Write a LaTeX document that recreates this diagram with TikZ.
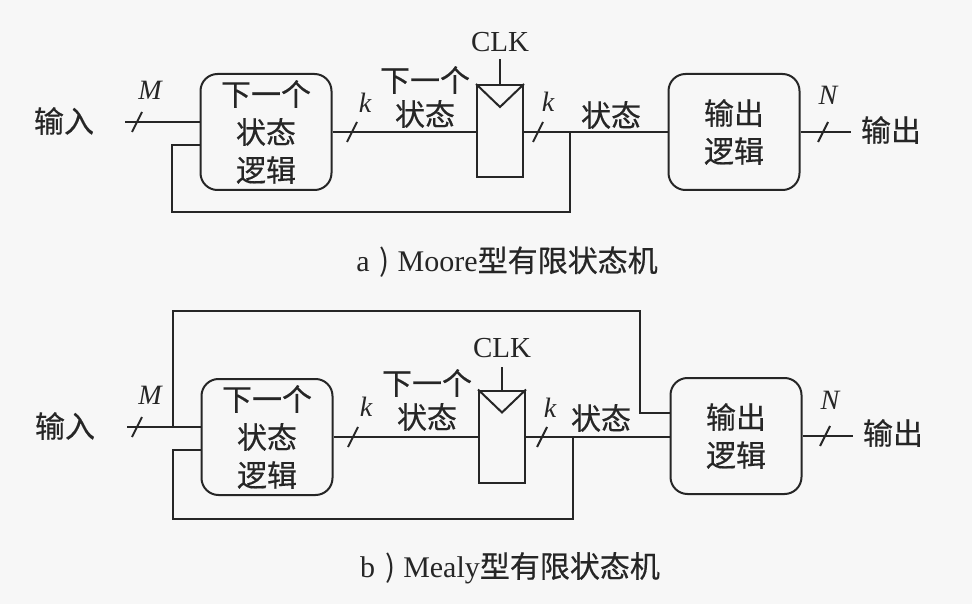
\documentclass[tikz,border=0pt]{standalone}
\usepackage{fontspec}
\setmainfont{Liberation Serif}
\newfontfamily\cjk[FakeBold=0.4]{Noto Sans CJK SC}
\newfontfamily\cjkthin{Noto Sans CJK SC}
\begin{document}
\begin{tikzpicture}[x=1pt,y=-1pt,
  wire/.style={draw=black!85,line width=2pt},
  lbl/.style={inner sep=0pt,text=black!85,font=\cjk\fontsize{30}{34}\selectfont},
  lat/.style={inner sep=0pt,text=black!85,font=\fontsize{29}{34}\selectfont},
  var/.style={inner sep=0pt,text=black!85,font=\fontsize{28}{32}\selectfont\itshape},
  logic/.style={draw=black!85,line width=2pt,rounded corners=17pt,minimum width=131pt,minimum height=116pt,
    align=center,inner sep=0pt,text=black!85,font=\cjk\fontsize{30}{38}\selectfont},
  regbox/.style={draw=black!85,line width=2pt,minimum width=46pt,minimum height=92pt,inner sep=0pt},
  bus/.pic={\draw[wire] (-5,10) -- (5,-10);}
]
\useasboundingbox[fill=black!3] (0,0) rectangle (972,604);

%% ---------- a) Moore ----------
\node[lbl] (inA) at (64,121) {输入};
\coordinate (inA0) at (125,122);
\node[logic] (nsA) at (266,132) {下一个\\状态\\逻辑};
\node[regbox] (regA) at (500,131) {};
\node[logic] (outA) at (734,132) {输出\\逻辑};
\coordinate (outA1) at (851,132);
\node[lbl] (outAt) at (891,130) {输出};
\node[lat] (clkA) at (500,42) {CLK};
\node[var] (mA) at (150,90) {M};
\node[var] (k1A) at (365,103) {k};
\node[var] (k2A) at (548,102) {k};
\node[var] (nA) at (828,95) {N};
\node[lbl,align=center] (nxA) at (425,97) {下一个\\状态};
\node[lbl] (stA) at (611,115) {状态};
\coordinate (jA) at (570,132);
\coordinate (fbA1) at (172,212);
\coordinate (fbA2) at (570,212);

\draw[wire] (inA0) -- (inA0 -| nsA.west);
\draw[wire] (nsA.east) -- (nsA.east -| regA.west);
\draw[wire] (regA.east |- nsA.east) -- (outA.west);
\draw[wire] (outA.east) -- (outA1);
\draw[wire] ([yshift=-13pt]nsA.west) -| (fbA1) -- (fbA2) -- (jA);
\draw[wire] (regA.north) -- ++(0,-25);
\draw[wire,line join=miter] (regA.north west) -- ([yshift=-23pt]regA.north) -- (regA.north east);
\pic at (137,122) {bus};
\pic at (352,132) {bus};
\pic at (538,132) {bus};
\pic at (823,132) {bus};

\node[lat,font=\fontsize{30}{34}\selectfont] (capA) at (507,262) {a\hspace{10pt}{\cjkthin )}\hspace{8pt}Moore{\cjk 型有限状态机}};

%% ---------- b) Mealy ----------
\node[lbl] (inB) at (65,426) {输入};
\coordinate (inB0) at (127,427);
\node[logic] (nsB) at (267,437) {下一个\\状态\\逻辑};
\node[regbox] (regB) at (502,436.5) {};
\node[logic] (outB) at (736,436) {输出\\逻辑};
\coordinate (outB1) at (853,436);
\node[lbl] (outBt) at (893,433) {输出};
\node[lat] (clkB) at (502,348) {CLK};
\node[var] (mB) at (150,395) {M};
\node[var] (k1B) at (366,407) {k};
\node[var] (k2B) at (550,408) {k};
\node[var] (nB) at (830,400) {N};
\node[lbl,align=center] (nxB) at (427,400) {下一个\\状态};
\node[lbl] (stB) at (601,418) {状态};
\coordinate (jB) at (573,437);
\coordinate (jB0) at (173,427);
\coordinate (fbB1) at (173,519);
\coordinate (fbB3) at (573,519);
\coordinate (fbB2) at (640,311);

\draw[wire] (inB0) -- (inB0 -| nsB.west);
\draw[wire] (nsB.east) -- (nsB.east -| regB.west);
\draw[wire] (regB.east |- nsB.east) -- (outB.west |- nsB.east);
\draw[wire] (outB.east) -- (outB1);
\draw[wire] ([yshift=-13pt]nsB.west) -| (fbB1) -- (fbB3) -- (jB);
\draw[wire] (jB0) |- (fbB2) |- ([yshift=23pt]outB.west);
\draw[wire] (regB.north) -- ++(0,-23);
\draw[wire,line join=miter] (regB.north west) -- ([yshift=-23pt]regB.north) -- (regB.north east);
\pic at (137,427) {bus};
\pic at (353,437) {bus};
\pic at (542,437) {bus};
\pic at (825,436) {bus};

\node[lat,font=\fontsize{30}{34}\selectfont] (capB) at (510,568) {b\hspace{10pt}{\cjkthin )}\hspace{8pt}Mealy{\cjk 型有限状态机}};
\end{tikzpicture}
\end{document}
